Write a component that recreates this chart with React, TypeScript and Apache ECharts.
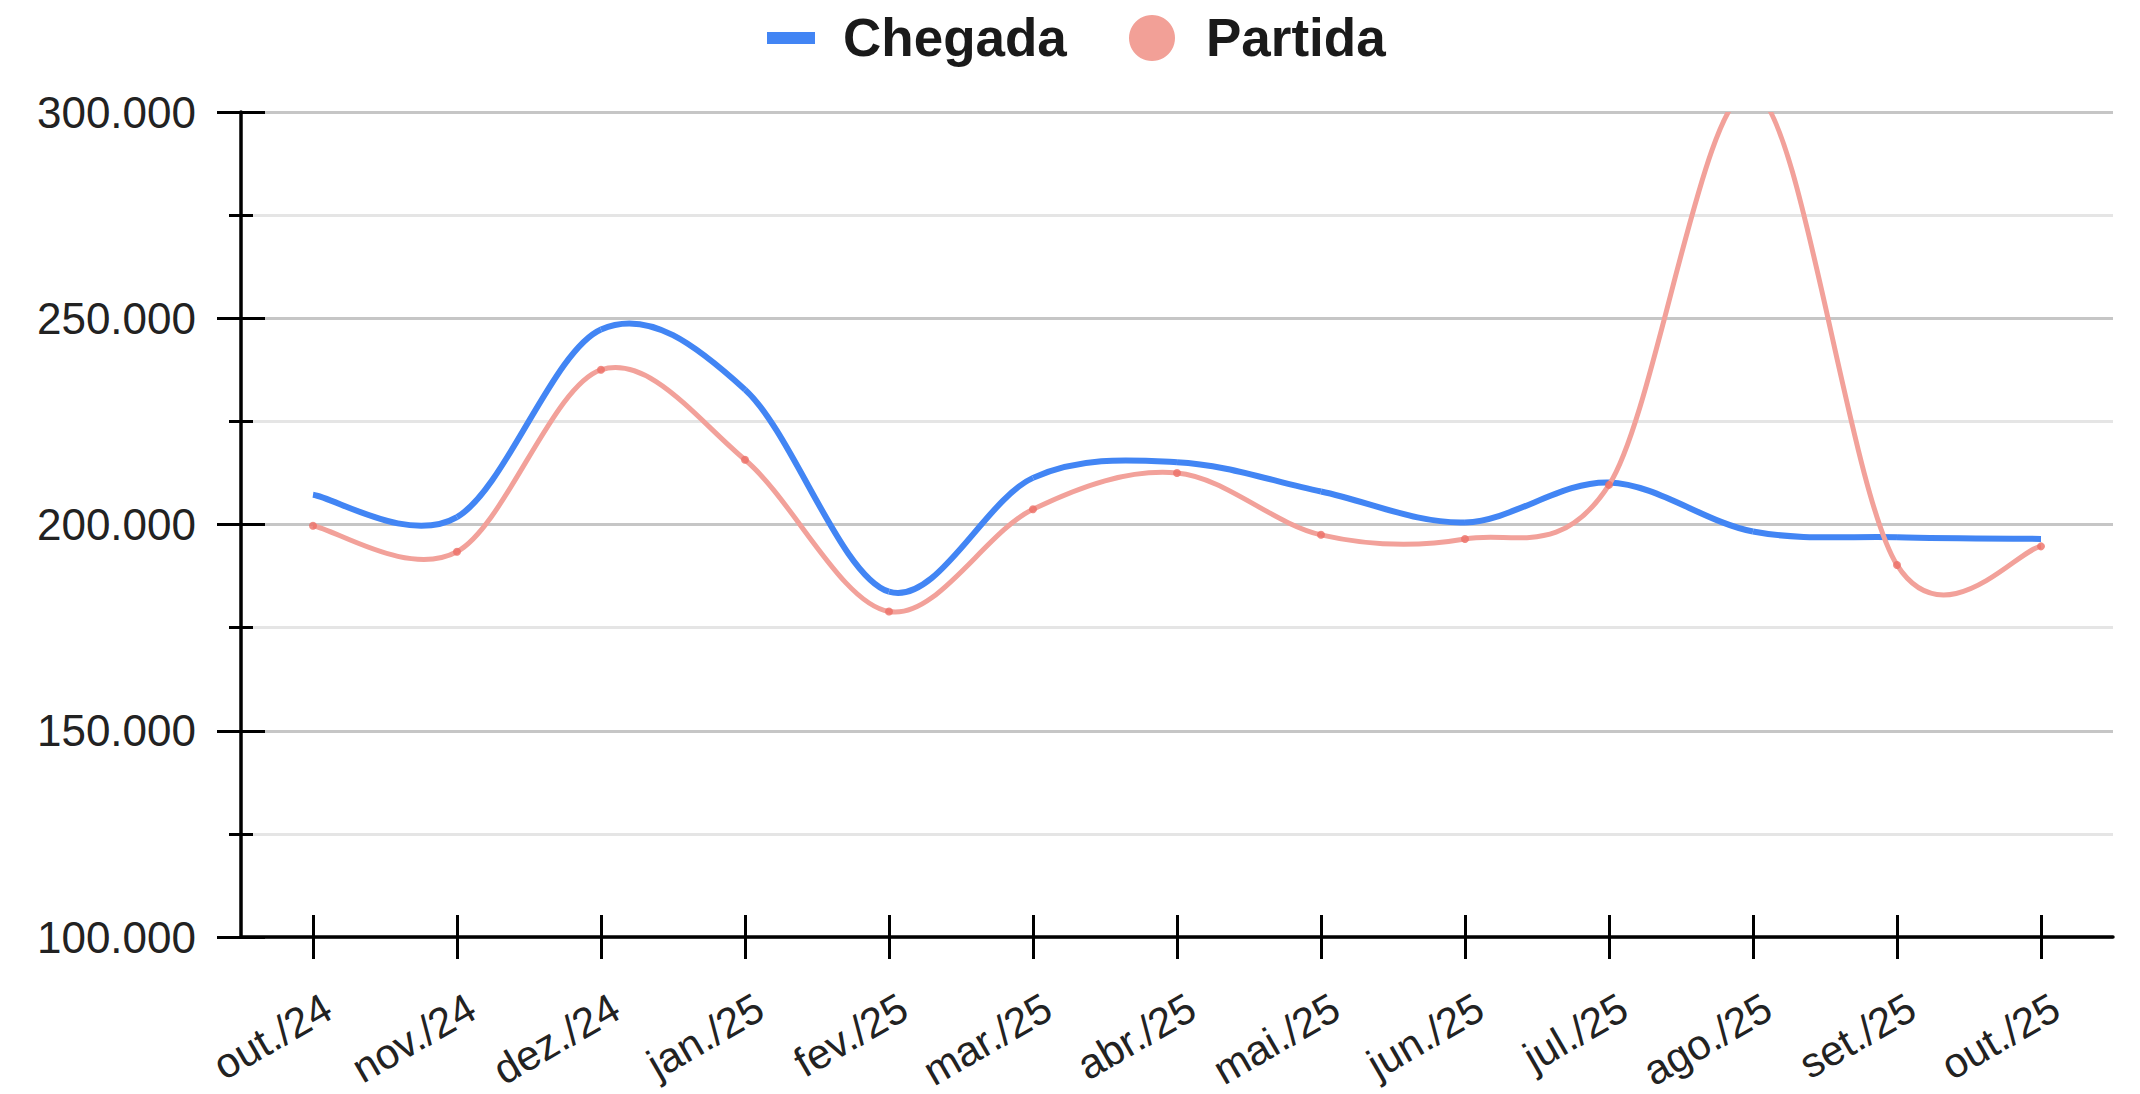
import React, { useEffect, useRef } from "react";
import * as echarts from "echarts";

const categories = [
  "out./24", "nov./24", "dez./24", "jan./25", "fev./25", "mar./25", "abr./25",
  "mai./25", "jun./25", "jul./25", "ago./25", "set./25", "out./25",
];
const chegada = [207200, 201800, 247300, 232700, 183700, 211300, 215100, 208000, 200500, 210200, 198300, 196900, 196500];
const partida = [199700, 193400, 237500, 215700, 178900, 203700, 212500, 197500, 196500, 209600, 305000, 190200, 194700];
const seriesNames = ["Chegada", "Partida"];
const yMin = 100000;
const yMax = 300000;
const yStep = 50000;

const FONT = "'Liberation Sans', Arial, sans-serif";
const BLUE = "#4285f4";
const PINK_LINE = "#f2a19a";
const PINK_POINT = "#ec6f66";
const PINK_LEGEND = "#f2a097";

function fmt(v: number): string {
  const s = String(Math.round(v));
  return s.replace(/\B(?=(\d{3})+(?!\d))/g, ".");
}

// Smooth curve (Catmull-Rom style) drawn segment by segment through the axes' scales
function curveSeries(name: string, values: number[], color: string, width: number, z: number) {
  const n = values.length;
  return {
    name,
    type: "custom",
    xAxisIndex: 0,
    yAxisIndex: 0,
    clip: true,
    z,
    data: values.map((v, i) => [i, v]),
    encode: { x: 0, y: 1 },
    renderItem: (params: any, api: any) => {
      const i = params.dataIndex;
      if (i >= n - 1) return { type: "group", children: [] };
      const pt = (j: number) => {
        const k = Math.max(0, Math.min(n - 1, j));
        return api.coord([k, values[k]]);
      };
      const p0 = pt(i - 1);
      const p1 = pt(i);
      const p2 = pt(i + 1);
      const p3 = pt(i + 2);
      const t = 1 / 6;
      return {
        type: "bezierCurve",
        shape: {
          x1: p1[0],
          y1: p1[1],
          x2: p2[0],
          y2: p2[1],
          cpx1: p1[0] + (p2[0] - p0[0]) * t,
          cpy1: p1[1] + (p2[1] - p0[1]) * t,
          cpx2: p2[0] - (p3[0] - p1[0]) * t,
          cpy2: p2[1] - (p3[1] - p1[1]) * t,
        },
        style: { stroke: color, lineWidth: width, fill: "none" },
      };
    },
  };
}

export default function App() {
  const ref = useRef<HTMLDivElement>(null);
  useEffect(() => {
    if (!ref.current) return;
    const chart = echarts.init(ref.current, undefined, { renderer: "svg" });
    const gridLeft = 241;
    const gridRight = 27;
    const gridTop = 112;
    const gridBottom = 157;
    chart.setOption({
      animation: false,
      backgroundColor: "#ffffff",
      grid: [
        { left: gridLeft, right: gridRight, top: gridTop, bottom: gridBottom },
        { left: gridLeft + 15, right: gridRight - 15, top: gridTop, bottom: gridBottom },
      ],
      xAxis: [
        {
          type: "category",
          gridIndex: 0,
          data: categories,
          position: "bottom",
          boundaryGap: true,
          axisLine: { show: true, lineStyle: { color: "#000", width: 3.5 } },
          axisTick: { show: true, alignWithLabel: true, interval: 0, length: 22, inside: false, lineStyle: { color: "#000", width: 3 } },
          axisLabel: { show: false },
          splitLine: { show: false },
        },
        {
          type: "category",
          gridIndex: 0,
          data: categories,
          position: "bottom",
          boundaryGap: true,
          axisLine: { show: false },
          axisTick: { show: true, alignWithLabel: true, interval: 0, length: 22, inside: true, lineStyle: { color: "#000", width: 3 } },
          axisLabel: { show: false },
          splitLine: { show: false },
        },
        {
          type: "category",
          gridIndex: 1,
          data: categories,
          position: "bottom",
          boundaryGap: true,
          axisLine: { show: false },
          axisTick: { show: false },
          axisLabel: {
            show: true,
            interval: 0,
            rotate: 30,
            margin: 68,
            fontSize: 42,
            fontFamily: FONT,
            color: "#222222",
          },
          splitLine: { show: false },
        },
      ],
      yAxis: [
        {
          type: "value",
          gridIndex: 0,
          position: "left",
          min: yMin,
          max: yMax,
          interval: yStep,
          axisLine: { show: true, lineStyle: { color: "#000", width: 3.5 } },
          axisTick: { show: true, length: 24, inside: false, lineStyle: { color: "#000", width: 3 } },
          minorTick: { show: true, splitNumber: 2, length: 12, lineStyle: { color: "#000", width: 3 } },
          splitLine: { show: true, lineStyle: { color: "#c6c6c6", width: 3 } },
          minorSplitLine: { show: true, lineStyle: { color: "#e5e5e5", width: 3 } },
          axisLabel: {
            show: true,
            margin: 45,
            fontSize: 44,
            fontFamily: FONT,
            color: "#222222",
            formatter: (v: number) => fmt(v),
          },
        },
        {
          type: "value",
          gridIndex: 0,
          position: "left",
          offset: 0,
          min: yMin,
          max: yMax,
          interval: yStep,
          axisLine: { show: false },
          axisTick: { show: true, length: 24, inside: true, lineStyle: { color: "#000", width: 3 } },
          minorTick: { show: true, splitNumber: 2, length: 12, lineStyle: { color: "#000", width: 3 } },
          splitLine: { show: false },
          minorSplitLine: { show: false },
          axisLabel: { show: false },
        },
        {
          type: "value",
          gridIndex: 1,
          show: false,
          min: yMin,
          max: yMax,
          interval: yStep,
        },
      ],
      series: [
        curveSeries(seriesNames[0], chegada, BLUE, 6, 3),
        curveSeries(seriesNames[1], partida, PINK_LINE, 5, 4),
        {
          name: seriesNames[1] + " pontos",
          type: "scatter",
          xAxisIndex: 0,
          yAxisIndex: 0,
          data: partida,
          symbol: "circle",
          symbolSize: 8,
          clip: true,
          itemStyle: { color: PINK_POINT },
          z: 5,
        },
      ],
      graphic: [
        { type: "rect", shape: { x: 767, y: 32, width: 48, height: 12 }, style: { fill: BLUE } },
        {
          type: "text",
          x: 843,
          y: 37,
          style: { text: seriesNames[0], fill: "#1a1a1a", font: `bold 53px ${FONT}`, verticalAlign: "middle", align: "left" },
        },
        { type: "circle", shape: { cx: 1152, cy: 38, r: 23 }, style: { fill: PINK_LEGEND } },
        {
          type: "text",
          x: 1206,
          y: 37,
          style: { text: seriesNames[1], fill: "#1a1a1a", font: `bold 53px ${FONT}`, verticalAlign: "middle", align: "left" },
        },
      ],
    });
    return () => chart.dispose();
  }, []);
  return (
    <div
      ref={ref}
      style={{ position: "fixed", left: 0, top: 0, width: 2140, height: 1094, background: "#fff" }}
    />
  );
}
